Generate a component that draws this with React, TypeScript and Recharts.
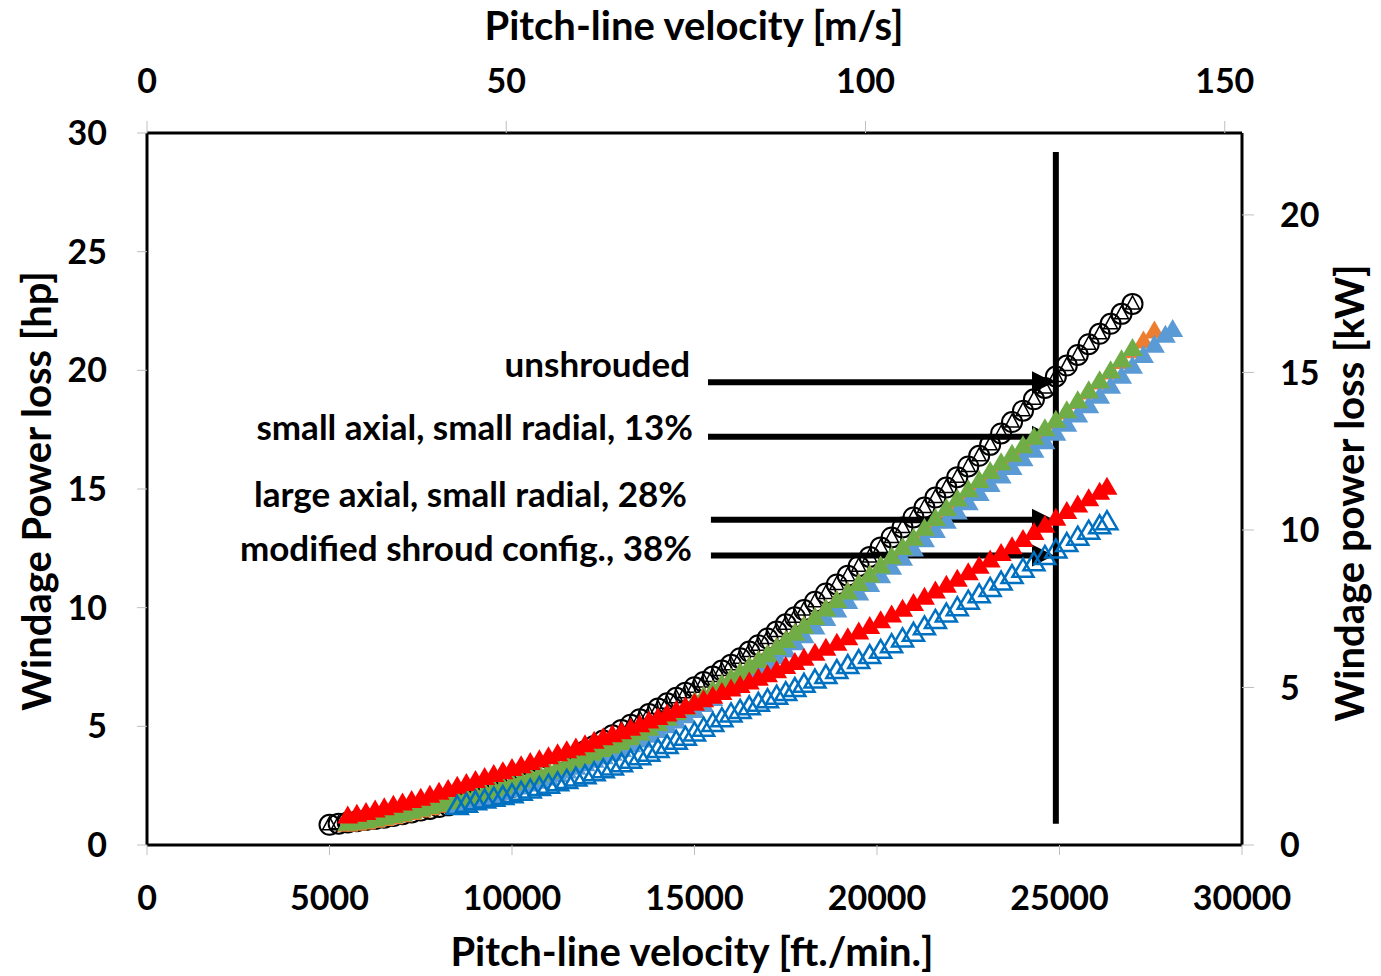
import React from "react";
import { ScatterChart, Scatter, XAxis, YAxis, ReferenceLine } from "recharts";

const FONT = "Lato, 'Open Sans', sans-serif";

// axis ticks
const ftTicks = [0, 5000, 10000, 15000, 20000, 25000, 30000];
const msTicks = [0, 50, 100, 150];
const hpTicks = [0, 5, 10, 15, 20, 25, 30];
const kwTicks = [0, 5, 10, 15, 20];
// corners of the secondary (m/s, kW) axes
const msRange = [0, 152.4];
const kwRange = [0, 22.6];

// unshrouded (black open circles)
const vUnshrouded = [
  5000, 5250, 5500, 5750, 6000, 6250, 6500, 6750, 7000, 7250, 7500, 7750, 8000, 8250, 8500, 8750,
  9000, 9250, 9500, 9750, 10000, 10250, 10500, 10750, 11000, 11250, 11500, 11750, 12000, 12250,
  12500, 12750, 13000, 13250, 13500, 13750, 14000, 14250, 14500, 14750, 15000, 15250, 15500, 15750,
  16000, 16250, 16500, 16750, 17000, 17250, 17500, 17750, 18000, 18300, 18600, 18900, 19200, 19500,
  19800, 20100, 20400, 20700, 21000, 21300, 21600, 21900, 22200, 22500, 22800, 23100, 23400, 23700,
  24000, 24300, 24600, 24900, 25200, 25500, 25800, 26100, 26400, 26700, 27000,
];
const hpUnshrouded = [
  0.85, 0.9, 0.95, 1.0, 1.05, 1.1, 1.15, 1.22, 1.3, 1.37, 1.45, 1.52, 1.6, 1.67, 1.75, 1.85,
  1.95, 2.07, 2.2, 2.32, 2.45, 2.6, 2.75, 2.92, 3.1, 3.3, 3.5, 3.72, 3.95, 4.17,
  4.4, 4.62, 4.85, 5.07, 5.3, 5.52, 5.75, 5.97, 6.2, 6.42, 6.65, 6.87, 7.1, 7.35,
  7.6, 7.87, 8.15, 8.42, 8.7, 9.0, 9.3, 9.6, 9.9, 10.25, 10.6, 10.98, 11.35, 11.75,
  12.14, 12.54, 12.96, 13.38, 13.8, 14.22, 14.64, 15.06, 15.5, 15.95, 16.4, 16.86, 17.34, 17.82,
  18.3, 18.78, 19.26, 19.74, 20.2, 20.65, 21.1, 21.54, 21.96, 22.38, 22.8,
];

// orange filled triangles
const vOrange = [
  5500, 5750, 6000, 6250, 6500, 6750, 7000, 7250, 7500, 7750, 8000, 8250, 8500, 8750, 9000, 9250,
  9500, 9750, 10000, 10250, 10500, 10750, 11000, 11250, 11500, 11750, 12000, 12250, 12500, 12750,
  13000, 13250, 13500, 13750, 14000, 14250, 14500, 14750, 15000, 15250, 15500, 15750, 16000, 16250,
  16500, 16750, 17000, 17250, 17500, 17750, 18000, 18300, 18600, 18900, 19200, 19500, 19800, 20100,
  20400, 20700, 21000, 21300, 21600, 21900, 22200, 22500, 22800, 23100, 23400, 23700, 24000, 24300,
  24600, 24900, 25200, 25500, 25800, 26100, 26400, 26700, 27000, 27300, 27600,
];
const hpOrange = [
  0.85, 0.9, 0.95, 1.02, 1.1, 1.17, 1.25, 1.35, 1.45, 1.55, 1.65, 1.75, 1.85, 1.95, 2.05, 2.17,
  2.3, 2.42, 2.55, 2.67, 2.8, 2.92, 3.05, 3.2, 3.35, 3.5, 3.65, 3.8, 3.95, 4.12,
  4.3, 4.5, 4.7, 4.9, 5.1, 5.32, 5.55, 5.77, 6.0, 6.25, 6.5, 6.75, 7.0, 7.25,
  7.5, 7.75, 8.0, 8.3, 8.6, 8.9, 9.2, 9.56, 9.92, 10.28, 10.64, 11.0, 11.36, 11.72,
  12.08, 12.46, 12.85, 13.24, 13.64, 14.06, 14.46, 14.85, 15.24, 15.62, 15.98, 16.34, 16.7, 17.06,
  17.42, 17.82, 18.22, 18.65, 19.07, 19.49, 19.91, 20.35, 20.8, 21.22, 21.64,
];

// light blue filled triangles
const vLightBlue = [
  8500, 8750, 9000, 9250, 9500, 9750, 10000, 10250, 10500, 10750, 11000, 11250, 11500, 11750,
  12000, 12250, 12500, 12750, 13000, 13250, 13500, 13750, 14000, 14250, 14500, 14750, 15000, 15250,
  15500, 15750, 16000, 16250, 16500, 16750, 17000, 17250, 17500, 17750, 18000, 18300, 18600, 18900,
  19200, 19500, 19800, 20100, 20400, 20700, 21000, 21300, 21600, 21900, 22200, 22500, 22800, 23100,
  23400, 23700, 24000, 24300, 24600, 24900, 25200, 25500, 25800, 26100, 26400, 26700, 27000, 27300,
  27600, 27900, 28100,
];
const hpLightBlue = [
  1.6, 1.7, 1.8, 1.92, 2.05, 2.17, 2.3, 2.42, 2.55, 2.67, 2.8, 2.95, 3.1, 3.25,
  3.4, 3.55, 3.7, 3.85, 4.0, 4.2, 4.4, 4.6, 4.8, 5.0, 5.2, 5.42, 5.65, 5.9,
  6.15, 6.4, 6.65, 6.9, 7.15, 7.4, 7.65, 7.92, 8.2, 8.5, 8.8, 9.16, 9.52, 9.88,
  10.24, 10.6, 10.96, 11.32, 11.68, 12.06, 12.45, 12.84, 13.23, 13.62, 14.01, 14.4, 14.79, 15.17,
  15.53, 15.89, 16.25, 16.61, 16.97, 17.33, 17.71, 18.1, 18.49, 18.89, 19.31, 19.73, 20.15, 20.6,
  21.04, 21.46, 21.7,
];

// small axial, small radial, 13% (green filled triangles)
const vGreen = [
  5500, 5750, 6000, 6250, 6500, 6750, 7000, 7250, 7500, 7750, 8000, 8250, 8500, 8750, 9000, 9250,
  9500, 9750, 10000, 10250, 10500, 10750, 11000, 11250, 11500, 11750, 12000, 12250, 12500, 12750,
  13000, 13250, 13500, 13750, 14000, 14250, 14500, 14750, 15000, 15250, 15500, 15750, 16000, 16250,
  16500, 16750, 17000, 17250, 17500, 17750, 18000, 18300, 18600, 18900, 19200, 19500, 19800, 20100,
  20400, 20700, 21000, 21300, 21600, 21900, 22200, 22500, 22800, 23100, 23400, 23700, 24000, 24300,
  24600, 24900, 25200, 25500, 25800, 26100, 26400, 26700, 27000,
];
const hpGreen = [
  0.9, 0.95, 1.0, 1.07, 1.15, 1.22, 1.3, 1.4, 1.5, 1.6, 1.7, 1.8, 1.9, 2.0, 2.1, 2.22,
  2.35, 2.47, 2.6, 2.72, 2.85, 2.97, 3.1, 3.25, 3.4, 3.55, 3.7, 3.85, 4.0, 4.15,
  4.3, 4.5, 4.7, 4.9, 5.1, 5.32, 5.55, 5.77, 6.0, 6.25, 6.5, 6.75, 7.0, 7.25,
  7.5, 7.75, 8.0, 8.3, 8.6, 8.9, 9.2, 9.56, 9.92, 10.28, 10.64, 11.0, 11.36, 11.73,
  12.12, 12.51, 12.9, 13.32, 13.74, 14.16, 14.56, 14.95, 15.34, 15.72, 16.08, 16.44, 16.8, 17.16,
  17.52, 17.88, 18.28, 18.7, 19.12, 19.54, 19.96, 20.42, 20.9,
];

// large axial, small radial, 28% (red filled triangles)
const vRed = [
  5500, 5750, 6000, 6250, 6500, 6750, 7000, 7250, 7500, 7750, 8000, 8250, 8500, 8750, 9000, 9250,
  9500, 9750, 10000, 10250, 10500, 10750, 11000, 11250, 11500, 11750, 12000, 12250, 12500, 12750,
  13000, 13250, 13500, 13750, 14000, 14250, 14500, 14750, 15000, 15250, 15500, 15750, 16000, 16250,
  16500, 16750, 17000, 17250, 17500, 17750, 18000, 18300, 18600, 18900, 19200, 19500, 19800, 20100,
  20400, 20700, 21000, 21300, 21600, 21900, 22200, 22500, 22800, 23100, 23400, 23700, 24000, 24300,
  24600, 24900, 25200, 25500, 25800, 26100, 26300,
];
const hpRed = [
  1.2, 1.27, 1.35, 1.45, 1.55, 1.65, 1.75, 1.85, 1.95, 2.07, 2.2, 2.32, 2.45, 2.57, 2.7, 2.82,
  2.95, 3.07, 3.2, 3.32, 3.45, 3.57, 3.7, 3.82, 3.95, 4.07, 4.2, 4.35, 4.5, 4.62,
  4.75, 4.9, 5.05, 5.2, 5.35, 5.5, 5.65, 5.8, 5.95, 6.1, 6.25, 6.4, 6.55, 6.7,
  6.85, 7.0, 7.15, 7.32, 7.5, 7.67, 7.85, 8.06, 8.27, 8.48, 8.71, 8.95, 9.19, 9.43,
  9.67, 9.91, 10.15, 10.42, 10.68, 10.92, 11.18, 11.45, 11.72, 11.99, 12.26, 12.55, 12.85, 13.15,
  13.45, 13.75, 14.03, 14.3, 14.57, 14.84, 15.05,
];

// modified shroud config., 38% (blue open triangles)
const vBlue = [
  8500, 8750, 9000, 9250, 9500, 9750, 10000, 10250, 10500, 10750, 11000, 11250, 11500, 11750,
  12000, 12250, 12500, 12750, 13000, 13250, 13500, 13750, 14000, 14250, 14500, 14750, 15000, 15250,
  15500, 15750, 16000, 16250, 16500, 16750, 17000, 17250, 17500, 17750, 18000, 18300, 18600, 18900,
  19200, 19500, 19800, 20100, 20400, 20700, 21000, 21300, 21600, 21900, 22200, 22500, 22800, 23100,
  23400, 23700, 24000, 24300, 24600, 24900, 25200, 25500, 25800, 26100, 26300,
];
const hpBlue = [
  1.6, 1.7, 1.8, 1.87, 1.95, 2.02, 2.1, 2.2, 2.3, 2.4, 2.5, 2.6, 2.7, 2.8,
  2.9, 3.02, 3.15, 3.27, 3.4, 3.55, 3.7, 3.85, 4.0, 4.17, 4.35, 4.52, 4.7, 4.9,
  5.1, 5.3, 5.5, 5.65, 5.8, 5.95, 6.1, 6.25, 6.4, 6.57, 6.75, 6.93, 7.12, 7.33,
  7.54, 7.75, 7.96, 8.18, 8.42, 8.66, 8.9, 9.17, 9.44, 9.71, 9.98, 10.25, 10.52, 10.79,
  11.06, 11.33, 11.6, 11.87, 12.14, 12.41, 12.68, 12.95, 13.2, 13.43, 13.6,
];

// annotations
const annLabels = [
  "unshrouded",
  "small axial, small radial, 13%",
  "large axial, small radial, 28%",
  "modified shroud config., 38%",
];
const annHp = [19.5, 17.2, 13.7, 12.2];
const annStartV = [15370, 15370, 15450, 15450];
const annEndV = 24850;
const markerV = 24900;

const toPoints = (v: number[], hp: number[]) => v.map((x, i) => ({ x, y: hp[i] }));

const triPts = (cx: number, cy: number) =>
  `${cx},${cy - 11} ${cx + 10.5},${cy + 7} ${cx - 10.5},${cy + 7}`;

const filledTri = (color: string) => (p: any) => (
  <polygon points={triPts(p.cx, p.cy)} fill={color} />
);

const openTri = (color: string) => (p: any) => (
  <polygon points={triPts(p.cx, p.cy)} fill="none" stroke={color} strokeWidth={2.5} />
);

const circleMark = (p: any) => (
  <g>
    <circle cx={p.cx} cy={p.cy} r={10} fill="none" stroke="#000" strokeWidth={2} />
    <polygon
      points={`${p.cx},${p.cy - 8} ${p.cx + 7},${p.cy + 5} ${p.cx - 7},${p.cy + 5}`}
      fill="none"
      stroke="#000"
      strokeWidth={1.5}
    />
  </g>
);

const noMark = () => <g />;

const textDy = [-5, 3, -13, 6];
const textGap = [18, 15, 24, 19];

const arrowShape = (i: number) => (p: any) => {
  const { x1, y1, x2 } = p;
  return (
    <g>
      <line x1={x1} y1={y1} x2={x2 - 16} y2={y1} stroke="#000" strokeWidth={6} />
      <polygon points={`${x2},${y1} ${x2 - 22},${y1 - 11} ${x2 - 22},${y1 + 11}`} fill="#000" />
      <text
        x={x1 - textGap[i]}
        y={y1 + textDy[i]}
        textAnchor="end"
        fontFamily={FONT}
        fontWeight={700}
        fontSize={35}
        fill="#000"
      >
        {annLabels[i]}
      </text>
    </g>
  );
};

const tickStyle = { fill: "#000", fontSize: 34, fontWeight: 700, fontFamily: FONT };
const titleStyle = { fontFamily: FONT, fontWeight: 700, fontSize: 40, fill: "#000" };
const axisLine = { stroke: "#000", strokeWidth: 3 };
const tickLine = { stroke: "#bfbfbf" };

export default function App() {
  return (
    <div style={{ position: "absolute", left: 0, top: 0, width: 1381, height: 976, background: "#fff" }}>
      <ScatterChart width={1381} height={976} margin={{ top: 0, right: 0, bottom: 0, left: 0 }}>
        <XAxis
          xAxisId="ft"
          type="number"
          dataKey="x"
          domain={[0, 30000]}
          ticks={ftTicks}
          height={131}
          axisLine={axisLine}
          tickLine={tickLine}
          tickSize={10}
          tickMargin={31}
          tick={tickStyle}
          interval={0}
        />
        <XAxis
          xAxisId="ms"
          orientation="top"
          type="number"
          dataKey="x"
          domain={msRange}
          ticks={msTicks}
          height={133}
          axisLine={axisLine}
          tickLine={tickLine}
          tickSize={12}
          tickMargin={28}
          tick={tickStyle}
          interval={0}
        />
        <YAxis
          yAxisId="hp"
          type="number"
          dataKey="y"
          domain={[0, 30]}
          ticks={hpTicks}
          width={147}
          axisLine={axisLine}
          tickLine={tickLine}
          tickSize={10}
          tickMargin={30}
          tick={tickStyle}
          interval={0}
        />
        <YAxis
          yAxisId="kw"
          orientation="right"
          type="number"
          dataKey="y"
          domain={kwRange}
          ticks={kwTicks}
          width={139}
          axisLine={axisLine}
          tickLine={tickLine}
          tickSize={12}
          tickMargin={26}
          tick={tickStyle}
          interval={0}
        />
        <Scatter
          data={[{ x: msRange[0], y: kwRange[0] }, { x: msRange[1], y: kwRange[1] }]}
          xAxisId="ms"
          yAxisId="kw"
          shape={noMark}
          isAnimationActive={false}
        />
        <Scatter data={toPoints(vUnshrouded, hpUnshrouded)} xAxisId="ft" yAxisId="hp" shape={circleMark} isAnimationActive={false} />
        <Scatter data={toPoints(vOrange, hpOrange)} xAxisId="ft" yAxisId="hp" shape={filledTri("#ED7D31")} isAnimationActive={false} />
        <Scatter data={toPoints(vLightBlue, hpLightBlue)} xAxisId="ft" yAxisId="hp" shape={filledTri("#5B9BD5")} isAnimationActive={false} />
        <Scatter data={toPoints(vGreen, hpGreen)} xAxisId="ft" yAxisId="hp" shape={filledTri("#70AD47")} isAnimationActive={false} />
        <Scatter data={toPoints(vRed, hpRed)} xAxisId="ft" yAxisId="hp" shape={filledTri("#FF0000")} isAnimationActive={false} />
        <Scatter data={toPoints(vBlue, hpBlue)} xAxisId="ft" yAxisId="hp" shape={openTri("#0070C0")} isAnimationActive={false} />
        <ReferenceLine
          xAxisId="ft"
          yAxisId="hp"
          segment={[{ x: markerV, y: 0.9 }, { x: markerV, y: 29.2 }]}
          stroke="#000"
          strokeWidth={6}
        />
        {annLabels.map((label, i) => (
          <ReferenceLine
            key={label}
            xAxisId="ft"
            yAxisId="hp"
            segment={[{ x: annStartV[i], y: annHp[i] }, { x: annEndV, y: annHp[i] }]}
            shape={arrowShape(i)}
          />
        ))}
      </ScatterChart>
      <svg width={1381} height={976} style={{ position: "absolute", left: 0, top: 0, pointerEvents: "none" }}>
        <text x={694} y={40} textAnchor="middle" {...titleStyle}>
          Pitch-line velocity [m/s]
        </text>
        <text x={692} y={966} textAnchor="middle" {...titleStyle}>
          Pitch-line velocity [ft./min.]
        </text>
        <text x={51} y={491} textAnchor="middle" transform="rotate(-90, 51, 491)" {...titleStyle}>
          Windage Power loss [hp]
        </text>
        <text x={1364} y={493} textAnchor="middle" transform="rotate(-90, 1364, 493)" {...titleStyle}>
          Windage power loss [kW]
        </text>
      </svg>
    </div>
  );
}
